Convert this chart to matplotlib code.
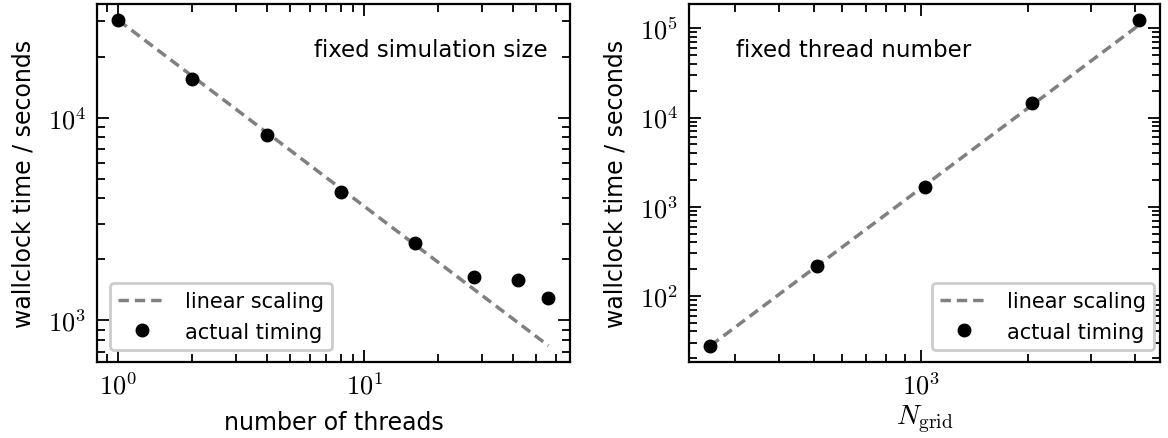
import math

import matplotlib
matplotlib.use("Agg")
import matplotlib.pyplot as plt
from matplotlib.ticker import FuncFormatter, NullFormatter, LogLocator

# strong scaling: wallclock time vs. number of threads
threads = [1, 2, 4, 8, 16, 28, 42, 56]
time_threads = [30300, 15550, 8240, 4325, 2415, 1640, 1590, 1290]
lin_threads = [1, 56]
lin_time_threads = [30300, 750]

# weak scaling: wallclock time vs. grid size
ngrid = [256, 512, 1024, 2048, 4096]
time_grid = [27.7, 219, 1680, 14500, 123000]
lin_ngrid = [256, 4096]
lin_time_grid = [27.7, 108000]

plt.rcParams["font.family"] = ["DejaVu Sans"]
plt.rcParams["mathtext.fontset"] = "cm"
plt.rcParams["font.size"] = 16
plt.rcParams["axes.linewidth"] = 1.6

fig = plt.figure(figsize=(11.68, 4.39), dpi=100)
ax1 = fig.add_axes([0.0830, 0.1731, 0.4050, 0.8155])
ax2 = fig.add_axes([0.5899, 0.1731, 0.4033, 0.8155])

pow_fmt = FuncFormatter(lambda v, pos: r"$10^{%d}$" % round(math.log10(v)))


def style(ax):
    ax.set_xscale("log")
    ax.set_yscale("log")
    ax.tick_params(which="both", direction="in", top=True, right=True,
                   width=1.3, labelsize=19, pad=8)
    ax.tick_params(which="major", length=8.5)
    ax.tick_params(which="minor", length=5.5)
    for axis in (ax.xaxis, ax.yaxis):
        axis.set_major_locator(LogLocator(base=10))
        axis.set_minor_locator(LogLocator(base=10, subs=range(2, 10)))
        axis.set_major_formatter(pow_fmt)
        axis.set_minor_formatter(NullFormatter())


def add_legend(ax, **kw):
    leg = ax.legend(borderaxespad=0, fontsize=15, handlelength=2.3,
                    handletextpad=0.9, labelspacing=0.5, framealpha=1,
                    edgecolor="0.8", **kw)
    leg.get_frame().set_linewidth(2)
    return leg


# left panel
ax1.plot(lin_threads, lin_time_threads, color="0.5", lw=2.5, dashes=(3, 1.7),
         label="linear scaling")
ax1.plot(threads, time_threads, "o", color="k", ms=9, label="actual timing")
style(ax1)
ax1.set_xlabel("number of threads", fontsize=17, labelpad=7)
ax1.set_ylabel("wallclock time / seconds", fontsize=17, labelpad=9)
ax1.text(0.953, 0.905, "fixed simulation size", transform=ax1.transAxes,
         ha="right", va="top", fontsize=16.5)
add_legend(ax1, loc="lower left", bbox_to_anchor=(13 / 473, 12 / 358))

# right panel
ax2.plot(lin_ngrid, lin_time_grid, color="0.5", lw=2.5, dashes=(3, 1.7),
         label="linear scaling")
ax2.plot(ngrid, time_grid, "o", color="k", ms=9, label="actual timing")
style(ax2)
ax2.set_xlabel(r"$N_{\mathrm{grid}}$", fontsize=20, labelpad=2)
ax2.set_ylabel("wallclock time / seconds", fontsize=17, labelpad=9)
ax2.text(0.10, 0.905, "fixed thread number", transform=ax2.transAxes,
         ha="left", va="top", fontsize=16.5)
add_legend(ax2, loc="lower right", bbox_to_anchor=(1 - 6 / 471, 12 / 358))

fig.savefig("out.png", dpi=100)
